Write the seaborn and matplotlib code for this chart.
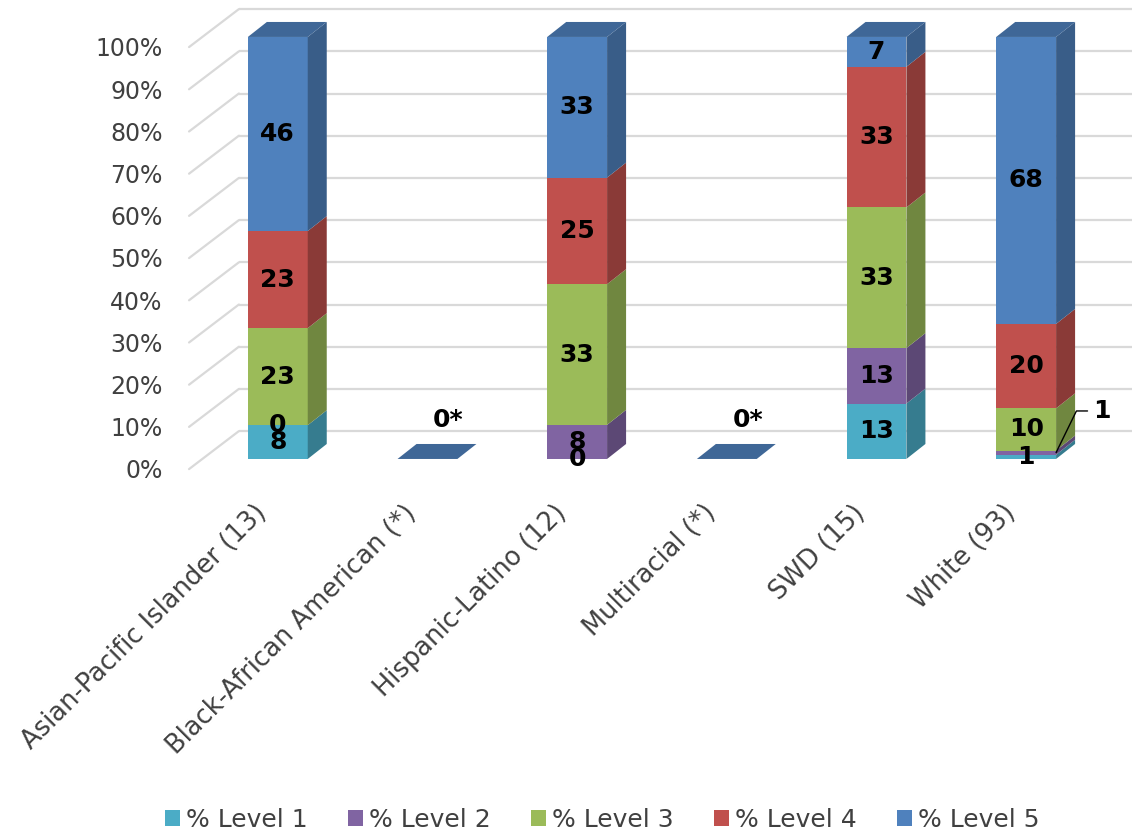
import numpy as np
import matplotlib
matplotlib.use("Agg")
import matplotlib.pyplot as plt
import matplotlib.colors as mcolors
import matplotlib.transforms as mtransforms
from matplotlib.patches import Polygon, Patch
import seaborn as sns

# ---- data -------------------------------------------------------------
categories = [
    "Asian-Pacific Islander (13)",
    "Black-African American (*)",
    "Hispanic-Latino (12)",
    "Multiracial (*)",
    "SWD (15)",
    "White (93)",
]
levels = ["% Level 1", "% Level 2", "% Level 3", "% Level 4", "% Level 5"]
level1 = [8, 0, 0, 0, 13, 1]
level2 = [0, 0, 8, 0, 13, 1]
level3 = [23, 0, 33, 0, 33, 10]
level4 = [23, 0, 25, 0, 33, 20]
level5 = [46, 0, 33, 0, 7, 68]
suppressed = [False, True, False, True, False, False]
level_colors = ["#4BACC6", "#8064A2", "#9BBB59", "#C0504D", "#4F81BD"]
ytick_values = list(range(0, 101, 10))

series = [level1, level2, level3, level4, level5]

# ---- style ------------------------------------------------------------
sns.set_style("white")
plt.rcParams["font.family"] = ["DejaVu Sans"]
TEXT_COLOR = "#404040"
GRID_COLOR = "#d9d9d9"

# depth of the columns and of the back wall, in data units
DEPTH_X, DEPTH_Y = 0.127, 3.55
WALL_DX, WALL_DY = 0.24, 6.6
FRONT_DX, FRONT_DY = -0.093, -2.4


def shade(color, f):
    r, g, b = mcolors.to_rgb(color)
    return (r * f, g * f, b * f)


# 100 % stacked shares
values = np.array(series, dtype=float)
totals = values.sum(axis=0)
shares = np.where(totals > 0, values / np.where(totals > 0, totals, 1) * 100, 0)

fig = plt.figure(figsize=(11.32, 8.36), dpi=100)
ax = fig.add_axes([0.1793, 0.4510, 0.7933, 0.5048])

bottom = np.zeros(len(categories))
containers = []
for lvl, share, col in zip(levels, shares, level_colors):
    sns.barplot(x=categories, y=share, order=categories, color=col, saturation=1,
                width=0.4, bottom=bottom.copy(), linewidth=0, errorbar=None,
                ax=ax, zorder=3)
    containers.append(ax.containers[-1])
    bottom = bottom + share

ax.set_xlim(-0.5, len(categories) - 0.5)
ax.set_ylim(0, 100)
for s in ax.spines.values():
    s.set_visible(False)

# side faces of every segment, top face of each column
top_color = shade(level_colors[-1], 0.8)
for li, cont in enumerate(containers):
    side_color = shade(level_colors[li], 0.72)
    for p in cont.patches:
        x0, y0, w, h = p.get_x(), p.get_y(), p.get_width(), p.get_height()
        if h > 0:
            ax.add_patch(Polygon([(x0 + w, y0), (x0 + w + DEPTH_X, y0 + DEPTH_Y),
                                  (x0 + w + DEPTH_X, y0 + h + DEPTH_Y), (x0 + w, y0 + h)],
                                 closed=True, facecolor=side_color, edgecolor="none",
                                 zorder=3, clip_on=False))
        if li == len(containers) - 1:
            yt = y0 + h
            ax.add_patch(Polygon([(x0, yt), (x0 + DEPTH_X, yt + DEPTH_Y),
                                  (x0 + w + DEPTH_X, yt + DEPTH_Y), (x0 + w, yt)],
                                 closed=True, facecolor=top_color, edgecolor="none",
                                 zorder=3, clip_on=False))

# back wall gridlines and side wall diagonals
xl, xr = ax.get_xlim()
for t in ytick_values:
    ax.plot([xl + WALL_DX, xr + WALL_DX + 0.3], [t + WALL_DY, t + WALL_DY],
            color=GRID_COLOR, lw=1.6, zorder=1, clip_on=False, solid_capstyle="butt")
    ax.plot([xl + FRONT_DX, xl + WALL_DX], [t + FRONT_DY, t + WALL_DY],
            color=GRID_COLOR, lw=1.6, zorder=1, clip_on=False)

# y tick labels on the front plane
ax.set_yticks(ytick_values)
ax.set_yticklabels([f"{v}%" for v in ytick_values], fontsize=17, color=TEXT_COLOR)
ax.tick_params(axis="y", length=0, pad=19)
y_off = mtransforms.ScaledTranslation(-0.14, -0.10, fig.dpi_scale_trans)
for lab in ax.get_yticklabels():
    lab.set_transform(lab.get_transform() + y_off)

# category labels
ax.set_xticks(range(len(categories)))
ax.set_xticklabels(categories, rotation=45, ha="right", va="center",
                   rotation_mode="anchor", fontsize=18.5, color=TEXT_COLOR)
ax.tick_params(axis="x", length=0, pad=36)
x_off = mtransforms.ScaledTranslation(-0.15, 0, fig.dpi_scale_trans)
for lab in ax.get_xticklabels():
    lab.set_transform(lab.get_transform() + x_off)
ax.set_xlabel("")
ax.set_ylabel("")

# value labels
for li, cont in enumerate(containers):
    for ci, p in enumerate(cont.patches):
        if suppressed[ci]:
            continue
        xc = p.get_x() + p.get_width() / 2
        yc = p.get_y() + p.get_height() / 2
        txt = f"{series[li][ci]:g}"
        if ci == 5 and li == 1:
            ax.annotate(txt, xy=(p.get_x() + p.get_width(), yc),
                        xytext=(27, 30), textcoords="offset points",
                        ha="left", va="center", fontsize=18, fontweight="bold",
                        color="black", zorder=6,
                        arrowprops=dict(arrowstyle="-", color="black", lw=1,
                                        shrinkA=2, shrinkB=0,
                                        connectionstyle="angle,angleA=0,angleB=64,rad=0"))
        else:
            ax.text(xc, yc, txt, ha="center", va="center", fontsize=18,
                    fontweight="bold", color="black", zorder=6)

for ci, flag in enumerate(suppressed):
    if flag:
        ax.annotate("0*", xy=(ci, 0), xytext=(15, 28), textcoords="offset points",
                    ha="center", va="center", fontsize=18, fontweight="bold",
                    color="black", zorder=6)

# legend
handles = [Patch(facecolor=c, edgecolor="none") for c in level_colors]
fig.legend(handles, levels, loc="center", bbox_to_anchor=(0.532, 1 - 820 / 836),
           ncol=5, frameon=False, handlelength=0.6, handleheight=0.6,
           handletextpad=0.25, columnspacing=1.6, fontsize=18, labelcolor=TEXT_COLOR)

fig.savefig("out.png", dpi=100, facecolor="white")
